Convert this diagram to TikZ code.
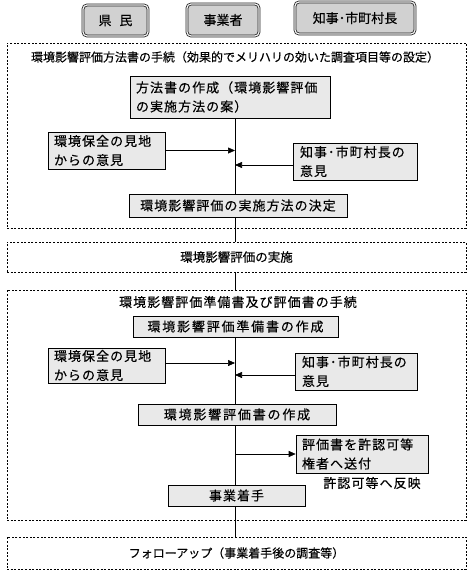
\documentclass[tikz,border=0pt]{standalone}
\usepackage{fontspec}
\setmainfont{Noto Sans CJK JP}[FakeBold=0.3]
\newfontfamily\jpA{Noto Sans CJK JP}[FakeBold=0.3,LetterSpace=8]
\newfontfamily\jpB{Noto Sans CJK JP}[FakeBold=0.3,LetterSpace=14]
\usetikzlibrary{arrows.meta,backgrounds}
\tikzset{
  gbox/.style={draw=black, line width=0.6pt, fill=gray!17,
    inner sep=0pt, font=\jpA\fontsize{13}{19}\selectfont},
  topbox/.style={draw=black!85, line width=0.8pt, double=gray!12, double distance=1.2pt,
    rounded corners=4pt, fill=gray!36, inner sep=0pt, font=\fontsize{13}{16}\selectfont},
  dbox/.style={draw=black, line width=0.7pt, dash pattern=on 2pt off 1.6pt, inner sep=0pt},
  mainline/.style={draw=black, line width=0.6pt},
  arr/.style={draw=black, line width=0.6pt, -{Triangle[length=7pt,width=6pt]}},
}
\begin{document}
\begin{tikzpicture}[x=1pt,y=-1pt]
\useasboundingbox (0,0) rectangle (476,578);
\coordinate (mx) at (235,0);
% top actors
\node[topbox, minimum width=65pt, minimum height=31pt] (kenmin) at (115.5,20.5) {県\hspace{0.6em}民};
\node[topbox, minimum width=72pt, minimum height=32pt] (jigyo) at (223,20) {事業者};
\node[topbox, minimum width=120pt, minimum height=32pt] (chiji) at (355,18) {知事･市町村長};
% dashed frames
\node[dbox, minimum width=459pt, minimum height=185pt] (d1) at (236.5,135.5) {};
\node[dbox, minimum width=459pt, minimum height=30pt, font=\fontsize{12.5}{15}\selectfont] (d2) at (236.5,257) {環境影響評価の実施};
\node[dbox, minimum width=459pt, minimum height=230pt] (d3) at (236.5,405) {};
\node[dbox, minimum width=459pt, minimum height=32pt, font=\fontsize{12}{15}\selectfont] (d4) at (236.5,553) {フォローアップ（事業着手後の調査等）};
\node[font=\fontsize{12}{14}\selectfont, inner sep=0pt] (t1) at (235,57) {環境影響評価方法書の手続（効果的でメリハリの効いた調査項目等の設定）};
\node[font=\jpA\fontsize{13}{15}\selectfont, inner sep=0pt] (t3) at (238,302) {環境影響評価準備書及び評価書の手続};
% boxes
\path
 node[gbox, minimum width=200pt, minimum height=42pt, text width=188pt, align=left] (b1) at (230,97) {方法書の作成（環境影響評価\\の実施方法の案）}
 node[gbox, minimum width=117pt, minimum height=37pt, text width=105pt, align=left] (l1) at (106.5,150.5) {環境保全の見地\\からの意見}
 node[gbox, minimum width=124pt, minimum height=37pt, text width=110pt, align=left] (r1) at (355,161.5) {知事･市町村長の\\意見}
 node[gbox, minimum width=218pt, minimum height=23pt] (b2) at (238,205.5) {環境影響評価の実施方法の決定}
 node[gbox, minimum width=205pt, minimum height=21pt, font=\jpB\fontsize{13}{19}\selectfont] (b3) at (235.5,326.5) {環境影響評価準備書の作成}
 node[gbox, minimum width=117pt, minimum height=35pt, text width=105pt, align=left] (l2) at (106.5,365.5) {環境保全の見地\\からの意見}
 node[gbox, minimum width=122pt, minimum height=37pt, text width=108pt, align=left] (r2) at (356,371.5) {知事･市町村長の\\意見}
 node[gbox, minimum width=198pt, minimum height=21pt, font=\jpB\fontsize{13}{19}\selectfont] (b4) at (237,414.5) {環境影響評価書の作成}
 node[gbox, minimum width=132pt, minimum height=38pt, text width=120pt, align=left] (r3) at (362,454) {評価書を許認可等\\権者へ送付}
 node[gbox, minimum width=137pt, minimum height=21pt] (b5) at (236.5,495.5) {事業着手};
\node[font=\jpA\fontsize{13}{15}\selectfont, inner sep=0pt] (hanei) at (372,483) {許認可等へ反映};
% main flow line (behind boxes)
\begin{scope}[on background layer]
\draw[mainline] (b1.south -| mx) -- (b2.north -| mx);
\draw[mainline] (b2.south -| mx) -- (d2.north -| mx);
\draw[mainline] (d2.south -| mx) -- (d3.north -| mx);
\draw[mainline] (b3.south -| mx) -- (b5.north -| mx);
\draw[mainline] (b5.south -| mx) -- (d4.north -| mx);
\end{scope}
% arrows
\draw[arr] (l1.east) -- (l1.east -| mx);
\draw[arr] ([yshift=-3.5pt]r1.west) -- ([yshift=-3.5pt]r1.west -| mx);
\draw[arr] ([yshift=2.5pt]l2.east) -- ([yshift=2.5pt]l2.east -| mx);
\draw[arr] ([yshift=-3.5pt]r2.west) -- ([yshift=-3.5pt]r2.west -| mx);
\draw[arr] (r3.west -| mx) -- (r3.west);
\end{tikzpicture}
\end{document}
